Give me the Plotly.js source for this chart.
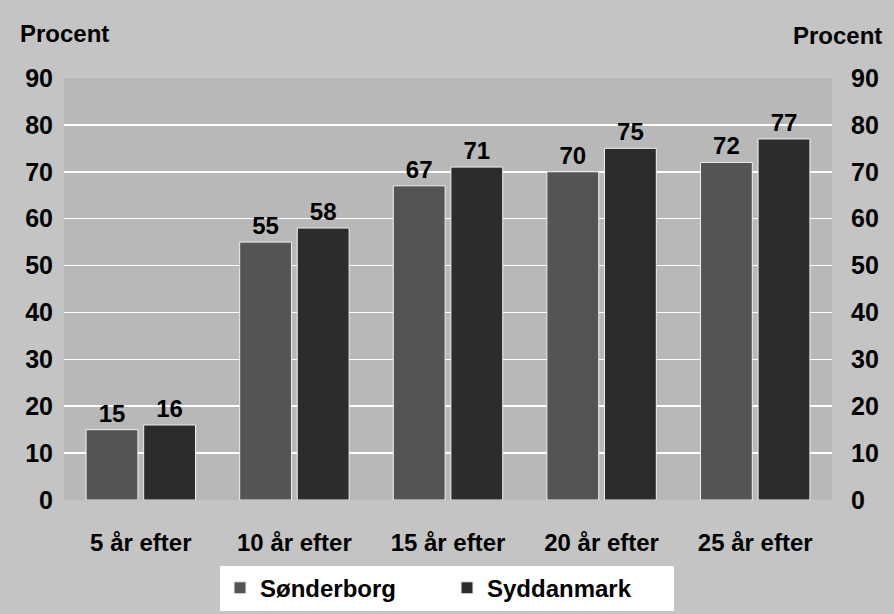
<!DOCTYPE html>
<html>
<head>
<meta charset="utf-8">
<script src="https://cdn.plot.ly/plotly-3.0.1.min.js"></script>
<style>html,body{margin:0;padding:0;background:#c4c4c4;}#chart{width:894px;height:614px;}</style>
</head>
<body>
<div id="chart"></div>
<script>
const categories = ["5 år efter", "10 år efter", "15 år efter", "20 år efter", "25 år efter"];
const sonderborg = [15, 55, 67, 70, 72];
const syddanmark = [16, 58, 71, 75, 77];
const yTicks = [0, 10, 20, 30, 40, 50, 60, 70, 80, 90];
const seriesNames = ["Sønderborg", "Syddanmark"];
const axisTitle = "Procent";

const font = {family: "Liberation Sans, Arial, sans-serif", size: 24, color: "#000", weight: "bold"};
const tickFont = {family: "Liberation Sans, Arial, sans-serif", size: 25, color: "#000", weight: "bold"};

const traces = [
  {type: "bar", name: seriesNames[0], x: categories, y: sonderborg,
   marker: {color: "#545454", line: {color: "#f0f0f0", width: 1}},
   text: sonderborg.map(String), textposition: "outside", cliponaxis: false,
   textfont: font},
  {type: "bar", name: seriesNames[1], x: categories, y: syddanmark,
   marker: {color: "#2c2c2c", line: {color: "#f0f0f0", width: 1}},
   text: syddanmark.map(String), textposition: "outside", cliponaxis: false,
   textfont: font},
  {type: "scatter", x: categories, y: syddanmark, yaxis: "y2", mode: "none",
   showlegend: false, hoverinfo: "skip"}
];

const layout = {
  width: 894, height: 614,
  margin: {l: 64, r: 62, t: 78, b: 114},
  paper_bgcolor: "#c4c4c4",
  plot_bgcolor: "#b8b8b8",
  barmode: "group",
  bargap: 0.25,
  bargroupgap: 0.1,
  font: font,
  xaxis: {tickfont: font, showgrid: false, zeroline: false, showline: false, ticks: "",
          ticklabelstandoff: 26, automargin: false},
  yaxis: {range: [0, 90], tickvals: yTicks, tickfont: tickFont, gridcolor: "#ffffff", gridwidth: 1.5,
          zeroline: false, showline: false, ticks: "", ticklabelstandoff: 10, automargin: false},
  yaxis2: {range: [0, 90], tickvals: yTicks, tickfont: tickFont, overlaying: "y", side: "right",
           showgrid: false, zeroline: false, showline: false, ticks: "", ticklabelstandoff: 18, automargin: false},
  legend: {orientation: "h", x: 0.5, xref: "container", xanchor: "center",
           y: 0.042, yref: "container", yanchor: "middle",
           bgcolor: "#ffffff", font: font, entrywidth: 182, entrywidthmode: "pixels",
           itemwidth: 30, tracegroupgap: 0},
  annotations: [
    {text: axisTitle, xref: "paper", yref: "paper", x: 0, y: 1, xshift: -46, yshift: 45,
     xanchor: "left", yanchor: "middle", showarrow: false, font: font},
    {text: axisTitle, xref: "paper", yref: "paper", x: 1, y: 1, xshift: 52, yshift: 43,
     xanchor: "right", yanchor: "middle", showarrow: false, font: font}
  ],
  showlegend: true
};

Plotly.newPlot("chart", traces, layout, {displayModeBar: false, staticPlot: true});
</script>
</body>
</html>
